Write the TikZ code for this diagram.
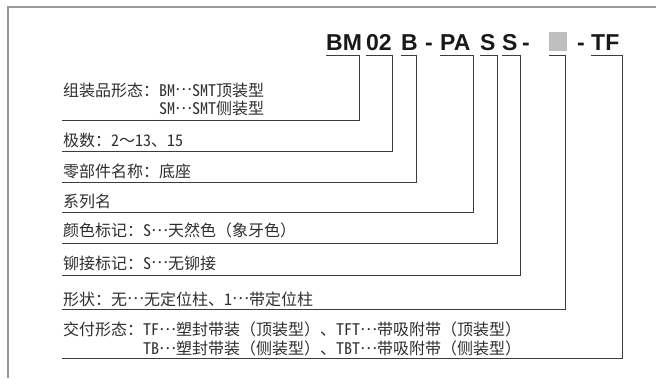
\documentclass[tikz,border=0pt]{standalone}
\usepackage{fontspec}
\setmainfont{Noto Sans CJK SC}
\newfontfamily\codefont{Liberation Sans}
\newfontfamily\halfwidth[RawFeature=+hwid]{Noto Sans CJK SC}
\newfontfamily\fullwidth[RawFeature=+fwid]{Noto Sans CJK SC}
\newcommand\lat[1]{{\halfwidth #1}}
\newcommand\cjkdots{{\fullwidth\raisebox{.32em}{…}}}
\definecolor{framegray}{HTML}{9A9A9A}
\definecolor{linegray}{HTML}{3C3C3C}
\definecolor{textgray}{HTML}{2E2E2E}
\definecolor{boxgray}{HTML}{BEBFC1}

\begin{document}
\begin{tikzpicture}[x=1pt, y=-1pt,
  code/.style={anchor=base west, inner sep=0pt, font=\codefont\bfseries\fontsize{23}{23}\selectfont, text=black!90},
  rowtext/.style={anchor=base west, inner sep=0pt, font=\fontsize{16}{18}\selectfont, text=textgray},
  bracket/.style={draw=linegray, line width=0.9pt}]
  \useasboundingbox (0,0) rectangle (656,378);
  % frame, open to the right and below
  \draw[framegray, line width=1.2pt] (8,378) -- (8,7) -- (656,7);

  % part number
  \node[code] (bm) at (326,50.7) {BM};
  \node[code] (num) at (366,50.7) {02};
  \node[code] (part) at (401,50.7) {B};
  \node[code] (dash1) at (425,50.7) {-};
  \node[code] (series) at (440,50.7) {PA};
  \node[code] (colour) at (480,50.7) {S};
  \node[code] (rivet) at (502,50.7) {S};
  \node[code] (dash2) at (522,50.7) {-};
  \node[fill=boxgray, inner sep=0pt, minimum width=18pt, minimum height=18.5pt, anchor=south west] (shape) at (549,50.7) {};
  \node[code] (dash3) at (577,50.7) {-};
  \node[code] (pack) at (591,50.7) {TF};

  % explanations
  \node[rowtext] (tform) at (63,96) {\begin{tabular}[t]{@{}l@{}l}组装品形态：&\lat{BM}\cjkdots\lat{SMT}顶装型\\&\lat{SM}\cjkdots\lat{SMT}侧装型\end{tabular}};
  \node[rowtext] (tpoles) at (63,146) {极数：\lat{2}～\lat{13}、\lat{15}};
  \node[rowtext] (tpart) at (63,177.5) {零部件名称：底座};
  \node[rowtext] (tseries) at (63,207) {系列名};
  \node[rowtext] (tcolour) at (63,236.5) {颜色标记：\lat{S}\cjkdots 天然色（象牙色）};
  \node[rowtext] (trivet) at (63,269) {铆接标记：\lat{S}\cjkdots 无铆接};
  \node[rowtext] (tshape) at (63,305) {形状：无\cjkdots 无定位柱、\lat{1}\cjkdots 带定位柱};
  \node[rowtext] (tpack) at (63,335.5) {\begin{tabular}[t]{@{}l@{}l}交付形态：&\lat{TF}\cjkdots 塑封带装（顶装型）、\lat{TFT}\cjkdots 带吸附带（顶装型）\\&\lat{TB}\cjkdots 塑封带装（侧装型）、\lat{TBT}\cjkdots 带吸附带（侧装型）\end{tabular}};

  % brackets
  \coordinate (left) at (62,0);
  \coordinate (k1) at (359.3,120.7);
  \coordinate (k2) at (392.7,151.5);
  \coordinate (k3) at (416.7,182);
  \coordinate (k4) at (473.7,212);
  \coordinate (k5) at (497,243.3);
  \coordinate (k6) at (520.5,275.3);
  \coordinate (k7) at (565.5,309.3);
  \coordinate (k8) at (622,358.3);
  \draw[bracket] ([yshift=-5pt]bm.base west) -| (k1) -- (k1 -| left);
  \draw[bracket] ([yshift=-5pt]num.base west) -| (k2) -- (k2 -| left);
  \draw[bracket] ([yshift=-5pt]part.base west) -| (k3) -- (k3 -| left);
  \draw[bracket] ([yshift=-5pt]series.base west) -| (k4) -- (k4 -| left);
  \draw[bracket] ([yshift=-5pt]colour.base west) -| (k5) -- (k5 -| left);
  \draw[bracket] ([yshift=-5pt]rivet.base west) -| (k6) -- (k6 -| left);
  \draw[bracket] ([yshift=-5pt]shape.south west) -| (k7) -- (k7 -| left);
  \draw[bracket] ([yshift=-5pt]pack.base west) -| (k8) -- (k8 -| left);
\end{tikzpicture}
\end{document}
